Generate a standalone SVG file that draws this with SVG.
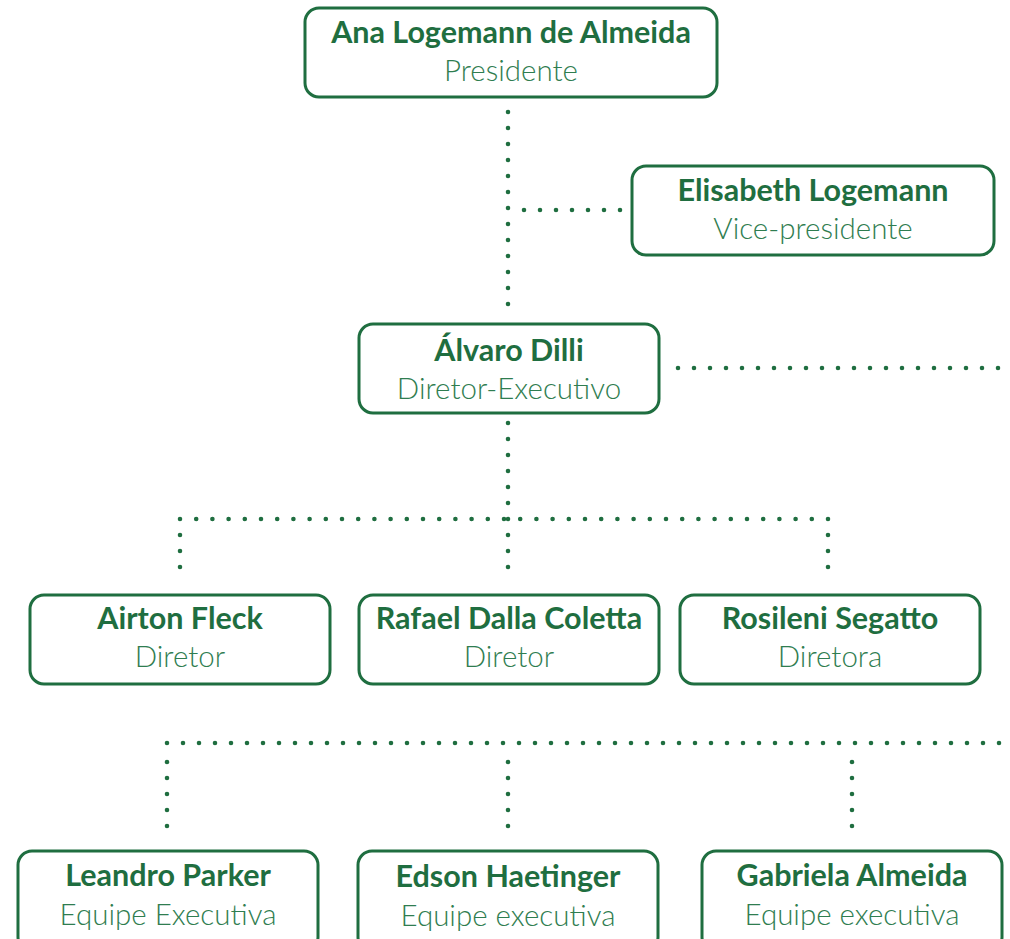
<svg xmlns="http://www.w3.org/2000/svg" width="1010" height="939" viewBox="0 0 1010 939">
<style>
.box{fill:#fff;stroke:#1f6e40;stroke-width:3}
.n{font-family:Lato,"Noto Sans",sans-serif;font-weight:700;font-size:30.5px;fill:#1f6e40;text-anchor:middle}
.s{font-family:Lato,"Noto Sans",sans-serif;font-weight:300;font-size:29.5px;fill:#2f7d50;text-anchor:middle}
.d{fill:none;stroke:#1f6e40;stroke-width:4.6;stroke-linecap:round;stroke-dasharray:0 16}
</style>
<g id="connectors">
<path class="d" d="M508 112 V313"/>
<path class="d" d="M524 210 H621"/>
<path class="d" d="M678 368 H1012"/>
<path class="d" d="M508 423 V520"/>
<path class="d" d="M180 519 H829" style="stroke-dasharray:0 16.2"/>
<path class="d" d="M180 535 V581"/>
<path class="d" d="M508 535 V583"/>
<path class="d" d="M828 535 V581"/>
<path class="d" d="M167 743 H1012"/>
<path class="d" d="M167 762 V835"/>
<path class="d" d="M508 762 V835"/>
<path class="d" d="M852 762 V835"/>
</g>
<g id="ana"><rect class="box" x="305" y="8" width="412" height="89" rx="14"/><text class="n" x="511" y="43">Ana Logemann de Almeida</text><text class="s" x="511" y="81">Presidente</text></g>
<g id="elisabeth"><rect class="box" x="632" y="166" width="362" height="89" rx="14"/><text class="n" x="813" y="201">Elisabeth Logemann</text><text class="s" x="813" y="239">Vice-presidente</text></g>
<g id="alvaro"><rect class="box" x="359" y="324" width="300" height="89" rx="14"/><text class="n" x="509" y="361">Álvaro Dilli</text><text class="s" x="509" y="399">Diretor-Executivo</text></g>
<g id="airton"><rect class="box" x="30" y="595" width="300" height="89" rx="14"/><text class="n" x="180" y="629">Airton Fleck</text><text class="s" x="180" y="667">Diretor</text></g>
<g id="rafael"><rect class="box" x="359" y="595" width="300" height="89" rx="14"/><text class="n" x="509" y="629">Rafael Dalla Coletta</text><text class="s" x="509" y="667">Diretor</text></g>
<g id="rosileni"><rect class="box" x="680" y="595" width="300" height="89" rx="14"/><text class="n" x="830" y="629">Rosileni Segatto</text><text class="s" x="830" y="667">Diretora</text></g>
<g id="leandro"><rect class="box" x="18" y="851" width="300" height="100" rx="14"/><text class="n" x="168" y="886">Leandro Parker</text><text class="s" x="168" y="925">Equipe Executiva</text></g>
<g id="edson"><rect class="box" x="358" y="851" width="300" height="100" rx="14"/><text class="n" x="508" y="887">Edson Haetinger</text><text class="s" x="508" y="926">Equipe executiva</text></g>
<g id="gabriela"><rect class="box" x="702" y="851" width="300" height="100" rx="14"/><text class="n" x="852" y="886">Gabriela Almeida</text><text class="s" x="852" y="925">Equipe executiva</text></g>
</svg>
